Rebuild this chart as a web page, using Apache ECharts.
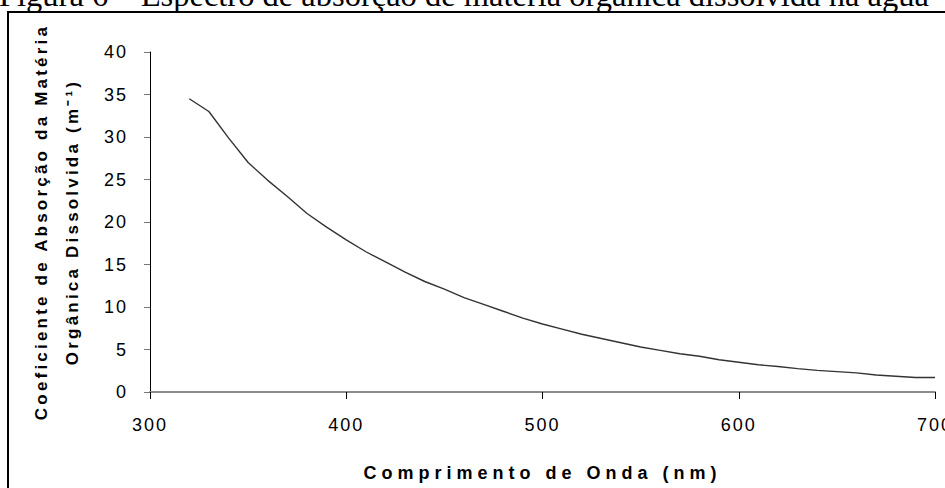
<!DOCTYPE html>
<html>
<head>
<meta charset="utf-8">
<script src="https://cdn.jsdelivr.net/npm/echarts@6/dist/echarts.min.js"></script>
<style>
  html, body { margin: 0; padding: 0; background: #fff; }
  #chart { width: 945px; height: 488px; }
</style>
</head>
<body>
<div id="chart"></div>
<script>
// ---- data ----
const heading = 'Figura 6 – Espectro de absorção de matéria orgânica dissolvida na água';
const xAxisTitle = 'Comprimento de Onda (nm)';
const yAxisTitleLine1 = 'Coeficiente de Absorção da Matéria';
const yAxisTitleLine2 = 'Orgânica Dissolvida (m⁻¹)';
const wavelengths = [320, 330, 340, 350, 360, 370, 380, 390, 400, 410, 420, 430, 440, 450, 460, 470, 480, 490, 500,
  510, 520, 530, 540, 550, 560, 570, 580, 590, 600, 610, 620, 630, 640, 650, 660, 670, 680, 690, 700];
const absorption = [34.5, 33.0, 29.9, 27.0, 24.9, 23.0, 21.0, 19.4, 17.9, 16.5, 15.3, 14.1, 13.0, 12.1, 11.1, 10.3, 9.5, 8.7, 8.0,
  7.4, 6.8, 6.3, 5.8, 5.3, 4.9, 4.5, 4.2, 3.8, 3.5, 3.2, 3.0, 2.75, 2.55, 2.4, 2.25, 2.0, 1.85, 1.7, 1.7];
const xTicks = { min: 300, max: 700, interval: 100 };
const yTicks = { min: 0, max: 40, interval: 5 };

const seriesData = wavelengths.map((w, i) => [w, absorption[i]]);

const chart = echarts.init(document.getElementById('chart'), null, { renderer: 'svg' });
const sans = '"Liberation Sans", Arial, sans-serif';

chart.setOption({
  animation: false,
  backgroundColor: '#fff',
  grid: { left: 150, right: 10, top: 52, bottom: 96, containLabel: false, outerBoundsMode: 'none' },
  graphic: [
    {
      type: 'text', left: -1, top: -22, silent: true,
      style: { text: heading, font: '32.5px "Liberation Serif", "Times New Roman", serif', fill: '#000' }
    },
    {
      type: 'rect', silent: true,
      shape: { x: 8, y: 12, width: 980, height: 520 },
      style: { fill: 'none', stroke: '#000', lineWidth: 2 }
    }
  ],
  xAxis: {
    type: 'value', min: xTicks.min, max: xTicks.max, interval: xTicks.interval,
    name: xAxisTitle, nameLocation: 'middle', nameGap: 72,
    nameTextStyle: { fontFamily: sans, fontSize: 18, fontWeight: 'bold', color: '#000' },
    axisLine: { show: true, onZero: false, lineStyle: { color: '#8c8c8c', width: 2 } },
    axisTick: { show: true, inside: false, length: 7, lineStyle: { color: '#000', width: 1 } },
    axisLabel: { margin: 24, fontFamily: sans, fontSize: 18, color: '#000' },
    splitLine: { show: false }
  },
  yAxis: {
    type: 'value', min: yTicks.min, max: yTicks.max, interval: yTicks.interval,
    name: yAxisTitleLine1 + '\n' + yAxisTitleLine2, nameLocation: 'middle', nameGap: 62,
    nameTextStyle: { fontFamily: sans, fontSize: 17, fontWeight: 'bold', color: '#000', lineHeight: 31 },
    axisLine: { show: true, lineStyle: { color: '#000', width: 1 } },
    axisTick: { show: true, inside: false, length: 6, lineStyle: { color: '#777', width: 1 } },
    axisLabel: { margin: 22, fontFamily: sans, fontSize: 18, color: '#000' },
    splitLine: { show: false }
  },
  series: [{
    type: 'line', data: seriesData, showSymbol: false, symbol: 'none',
    lineStyle: { color: '#333', width: 1.4 }
  }]
});

function applySpacing() {
  const texts = document.querySelectorAll('#chart svg text');
  texts.forEach(t => {
    const s = t.textContent || '';
    let ls = '2px';
    if (s.indexOf('Figura') === 0) ls = '0px';
    else if (s.indexOf('Comprimento') >= 0) ls = '5px';
    else if (s.indexOf('Coeficiente') >= 0 || s.indexOf('Orgânica') >= 0) ls = '3.2px';
    t.style.letterSpacing = ls;
  });
}
applySpacing();
chart.on('finished', applySpacing);
</script>
</body>
</html>
